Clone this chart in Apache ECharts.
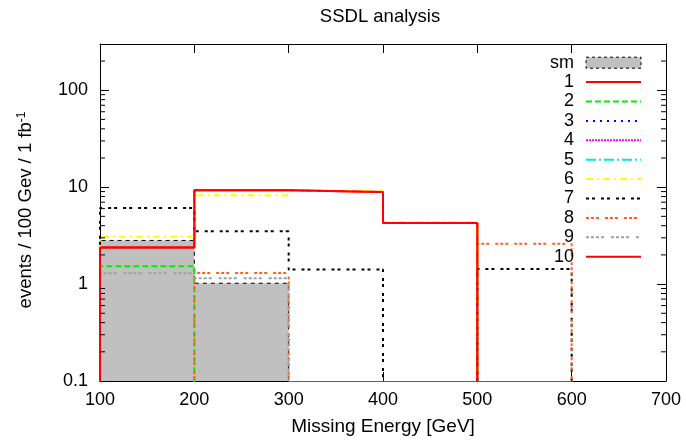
<!DOCTYPE html>
<html><head><meta charset="utf-8">
<script src="https://cdn.jsdelivr.net/npm/echarts@6/dist/echarts.min.js"></script>
<style>html,body{margin:0;padding:0;background:#fff}#c{width:686px;height:441px}</style>
</head><body><div id="c"></div>
<script>
// ---- data ----
const binEdges = [100, 200, 300, 400, 500, 600];
const smValues = [2.82, 1.02, 0, 0, 0];
const s1Values = [2.39, 9.3, 8.94, 4.27, 0];
const s2Values = [1.53, 0, 0, 0, 0];
const s3Values = [0, 0, 0, 0, 0];
const s4Values = [0, 0, 0, 0, 0];
const s5Values = [0, 0, 0, 0, 0];
const s6Values = [3.08, 8.24, 9.2, 4.37, 0];
const s7Values = [6.1, 3.5, 1.41, 0, 1.43];
const s8Values = [0, 1.3, 0, 0, 2.61];
const s9Values = [1.29, 1.15, 0, 0, 0];
const s10Values = [2.39, 9.3, 8.94, 4.27, 0];
const seriesNames = ['sm', '1', '2', '3', '4', '5', '6', '7', '8', '9', '10'];
const xTickLabels = [100, 200, 300, 400, 500, 600, 700];
const yTickLabels = [0.1, 1, 10, 100];
const yMinorTicks = [0.2,0.3,0.4,0.5,0.6,0.7,0.8,0.9,2,3,4,5,6,7,8,9,20,30,40,50,60,70,80,90,200];

const FLOOR = 0.001;
function steps(vals) {
  const pts = [[binEdges[0], FLOOR]];
  vals.forEach((v, i) => {
    const y = v > 0 ? v : FLOOR;
    pts.push([binEdges[i], y], [binEdges[i + 1], y]);
  });
  pts.push([binEdges[binEdges.length - 1], FLOOR]);
  return pts;
}

const FONT = 'Liberation Sans';
const styles = [
  { color: '#000', width: 1, dash: [4, 4] },
  { color: '#ff0000', width: 2, dash: 'solid' },
  { color: '#00ee00', width: 2, dash: [6, 3] },
  { color: '#0000ff', width: 2, dash: [2, 5] },
  { color: '#ff00ff', width: 2, dash: [2, 1] },
  { color: '#00e5ee', width: 2, dash: [10, 3, 2, 3] },
  { color: '#ffff00', width: 2, dash: [7, 4, 2, 4] },
  { color: '#000000', width: 2, dash: [3, 3, 3, 6] },
  { color: '#ff6020', width: 2, dash: [3, 2, 3, 2, 3, 6] },
  { color: '#a0a0a0', width: 2, dash: [3, 2, 3, 2, 3, 2, 3, 7] },
  { color: '#ff0000', width: 2, dash: 'solid' }
];
const allValues = [smValues, s1Values, s2Values, s3Values, s4Values, s5Values, s6Values, s7Values, s8Values, s9Values, s10Values];

const series = allValues.map((vals, i) => {
  const st = styles[i];
  const s = {
    name: seriesNames[i], type: 'line', data: steps(vals), symbol: 'none',
    clip: true, animation: false,
    lineStyle: { color: st.color, width: st.width, type: st.dash },
    itemStyle: { color: st.color }
  };
  if (i === 0) {
    s.areaStyle = { color: '#c0c0c0', opacity: 1, origin: 'start' };
  }
  return s;
});

series.push({
  type: 'custom', silent: true, animation: false, z: 10,
  data: yMinorTicks.map(v => [100, v]),
  encode: { x: 0, y: 1 },
  renderItem(params, api) {
    const v = api.value(1);
    const a = api.coord([100, v]);
    const b = api.coord([700, v]);
    return { type: 'group', children: [
      { type: 'line', shape: { x1: a[0], y1: a[1], x2: a[0] + 5, y2: a[1] }, style: { stroke: '#000', lineWidth: 1 } },
      { type: 'line', shape: { x1: b[0] - 5, y1: b[1], x2: b[0], y2: b[1] }, style: { stroke: '#000', lineWidth: 1 } }
    ]};
  }
});

const legendData = seriesNames.map((n, i) => {
  if (i === 0) return { name: n, icon: 'rect', itemStyle: { color: '#c0c0c0', borderColor: '#000', borderWidth: 1, borderType: [3, 3], opacity: 1 } };
  return { name: n };
});

const xAxisCommon = {
  type: 'value', min: 100, max: 700, interval: 100,
  axisLine: { show: true, onZero: false, lineStyle: { color: '#000', width: 1 } },
  axisTick: { show: true, inside: true, length: 9, lineStyle: { color: '#000' } },
  splitLine: { show: false }
};
const yAxisCommon = {
  type: 'log', logBase: 10, min: 0.1, max: 300,
  axisLine: { show: true, onZero: false, lineStyle: { color: '#000', width: 1 } },
  axisTick: { show: true, inside: true, length: 9, lineStyle: { color: '#000' } },
  splitLine: { show: false }
};

const option = {
  animation: false,
  backgroundColor: '#fff',
  textStyle: { fontFamily: FONT },
  title: {
    text: 'SSDL analysis', left: 380, top: 7, textAlign: 'center', padding: 0,
    textStyle: { fontFamily: FONT, fontSize: 18.5, fontWeight: 'normal', color: '#000' }
  },
  grid: { left: 100, right: 20, top: 44, bottom: 59, containLabel: false },
  xAxis: [
    Object.assign({}, xAxisCommon, {
      position: 'bottom',
      name: 'Missing Energy [GeV]', nameLocation: 'middle', nameGap: 36,
      nameTextStyle: { fontFamily: FONT, fontSize: 19, color: '#000' },
      axisLabel: { show: true, margin: 10, fontFamily: FONT, fontSize: 18, color: '#000',
        formatter: v => xTickLabels.indexOf(v) >= 0 ? String(v) : '' }
    }),
    Object.assign({}, xAxisCommon, { position: 'top', axisLabel: { show: false } })
  ],
  yAxis: [
    Object.assign({}, yAxisCommon, {
      position: 'left',
      axisLabel: { show: true, margin: 12, fontFamily: FONT, fontSize: 18, color: '#000', showMaxLabel: false,
        formatter: v => { const m = yTickLabels.find(t => Math.abs(t - v) < 1e-9 * Math.max(1, t)); return m !== undefined ? String(m) : ''; } }
    }),
    Object.assign({}, yAxisCommon, { position: 'right', axisLabel: { show: false } })
  ],
  legend: {
    orient: 'vertical', align: 'right', right: 44, top: 53.7, padding: 0,
    itemWidth: 55, itemHeight: 11, itemGap: 1.4,
    textStyle: { fontFamily: FONT, fontSize: 18, color: '#000', lineHeight: 18, padding: [0, 7, 0, 0] },
    itemStyle: { opacity: 0 },
    data: legendData,
    selectedMode: false
  },
  graphic: [{
    type: 'text', x: 26, y: 210, rotation: Math.PI / 2,
    style: {
      text: 'events / 100 Gev / 1 fb{s|-1}',
      fontFamily: FONT, fontSize: 18.5, fill: '#000',
      align: 'center', verticalAlign: 'middle',
      rich: { s: { fontFamily: FONT, fontSize: 12, fill: '#000', verticalAlign: 'top', padding: [0, 0, 8, 0] } }
    }
  }],
  series: series
};

const chart = echarts.init(document.getElementById('c'), null, { renderer: 'canvas' });
chart.setOption(option);
</script>
</body></html>
